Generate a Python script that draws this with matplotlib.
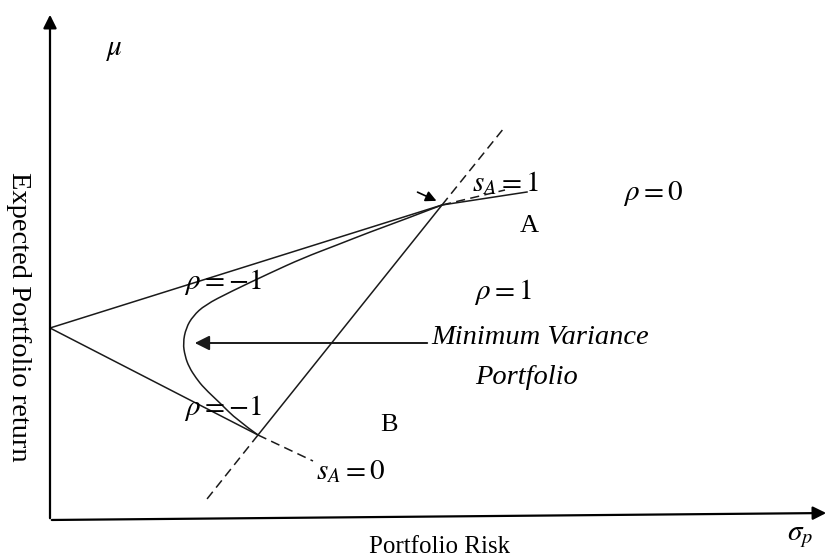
import matplotlib.pyplot as plt
from matplotlib.path import Path
from matplotlib.patches import PathPatch

plt.rcParams['mathtext.fontset'] = 'stix'
plt.rcParams['font.family'] = 'Liberation Serif'

# точки схемы (риск, доходность)
p0 = (50, 229)       # портфель без риска на оси доходности
pA = (442, 352)
pB = (258, 122)
a_solid_end = (527, 365)
a_dash_end = (505, 367)
rho1_up = (504, 429)
rho1_down = (207, 58)
b_dash_end = (313, 96)

# кривая rho = 0 (от A до B)
curve_x = [442, 403, 370, 337, 303, 270, 230, 205, 193, 186, 183, 185, 189, 196, 204, 220, 237, 258]
curve_y = [352, 337, 325, 312, 299, 284, 265, 252, 241, 229, 214, 201, 190, 179, 169, 154, 137, 122]

fig = plt.figure(figsize=(8.29, 5.57), dpi=100)
ax = fig.add_axes([0, 0, 1, 1])
ax.set_xlim(0, 829)
ax.set_ylim(0, 557)
ax.axis('off')

lc = '#1a1a1a'
lw = 1.1
dash = (0, (6, 3.5))

# оси со стрелками
ax.annotate('', xy=(50, 545), xytext=(50, 36),
            arrowprops=dict(arrowstyle='-|>', color='black', lw=1.6, mutation_scale=20))
ax.annotate('', xy=(829, 44), xytext=(49, 37),
            arrowprops=dict(arrowstyle='-|>', color='black', lw=1.6, mutation_scale=20))

# линии rho = -1
ax.plot([p0[0], pA[0], a_solid_end[0]], [p0[1], pA[1], a_solid_end[1]], color=lc, lw=lw)
ax.plot([p0[0], pB[0]], [p0[1], pB[1]], color=lc, lw=lw)
ax.plot([pB[0], b_dash_end[0]], [pB[1], b_dash_end[1]], color=lc, lw=lw, linestyle=dash)
ax.plot([pA[0], a_dash_end[0]], [pA[1], a_dash_end[1]], color=lc, lw=lw, linestyle=dash)

# линия rho = 1
ax.plot([pA[0], pB[0]], [pA[1], pB[1]], color=lc, lw=lw)
ax.plot([pA[0], rho1_up[0]], [pA[1], rho1_up[1]], color=lc, lw=lw, linestyle=dash)
ax.plot([pB[0], rho1_down[0]], [pB[1], rho1_down[1]], color=lc, lw=lw, linestyle=dash)

# кривая - сглаживаем квадратичными безье через середины отрезков
pts = list(zip(curve_x, curve_y))
verts = [pts[0]]
codes = [Path.MOVETO]
for i in range(1, len(pts) - 1):
    mid = ((pts[i][0] + pts[i + 1][0]) / 2, (pts[i][1] + pts[i + 1][1]) / 2)
    if i == len(pts) - 2:
        mid = pts[-1]
    verts += [pts[i], mid]
    codes += [Path.CURVE3, Path.CURVE3]
ax.add_patch(PathPatch(Path(verts, codes), fill=False, edgecolor=lc, lw=lw))

# стрелки
ax.annotate('', xy=(192, 214), xytext=(430, 214),
            arrowprops=dict(arrowstyle='-|>', color=lc, lw=1.4, mutation_scale=22))
ax.annotate('', xy=(439, 355), xytext=(415, 366),
            arrowprops=dict(arrowstyle='-|>', color='black', lw=1.2, mutation_scale=16))

# подписи
fs = 18
ms = 21
ax.text(115, 507, r'$\mu$', fontsize=ms, ha='center', va='center')
ax.text(800, 20, r'$\sigma_p$', fontsize=ms, ha='center', va='center')
ax.text(440, 10, 'Portfolio Risk', fontsize=fs, ha='center', va='center')
ax.text(18, 240, 'Expected Portfolio return', fontsize=20.5, rotation=270,
        ha='center', va='center')
ax.text(223, 275, r'$\rho = -1$', fontsize=ms, ha='center', va='center')
ax.text(223, 149, r'$\rho = -1$', fontsize=ms, ha='center', va='center')
ax.text(503, 265, r'$\rho = 1$', fontsize=ms, ha='center', va='center')
ax.text(653, 364, r'$\rho = 0$', fontsize=ms, ha='center', va='center')
ax.text(529, 331, 'A', fontsize=19, ha='center', va='center')
ax.text(389, 132, 'B', fontsize=19, ha='center', va='center')
ax.text(505, 374, r'$s_A = 1$', fontsize=ms, ha='center', va='center')
ax.text(351, 85, r'$s_A = 0$', fontsize=ms, ha='center', va='center')
ax.text(540, 220, 'Minimum Variance', fontsize=20.5, style='italic', ha='center', va='center')
ax.text(527, 179, 'Portfolio', fontsize=20.5, style='italic', ha='center', va='center')

fig.savefig('out.png', dpi=100)
